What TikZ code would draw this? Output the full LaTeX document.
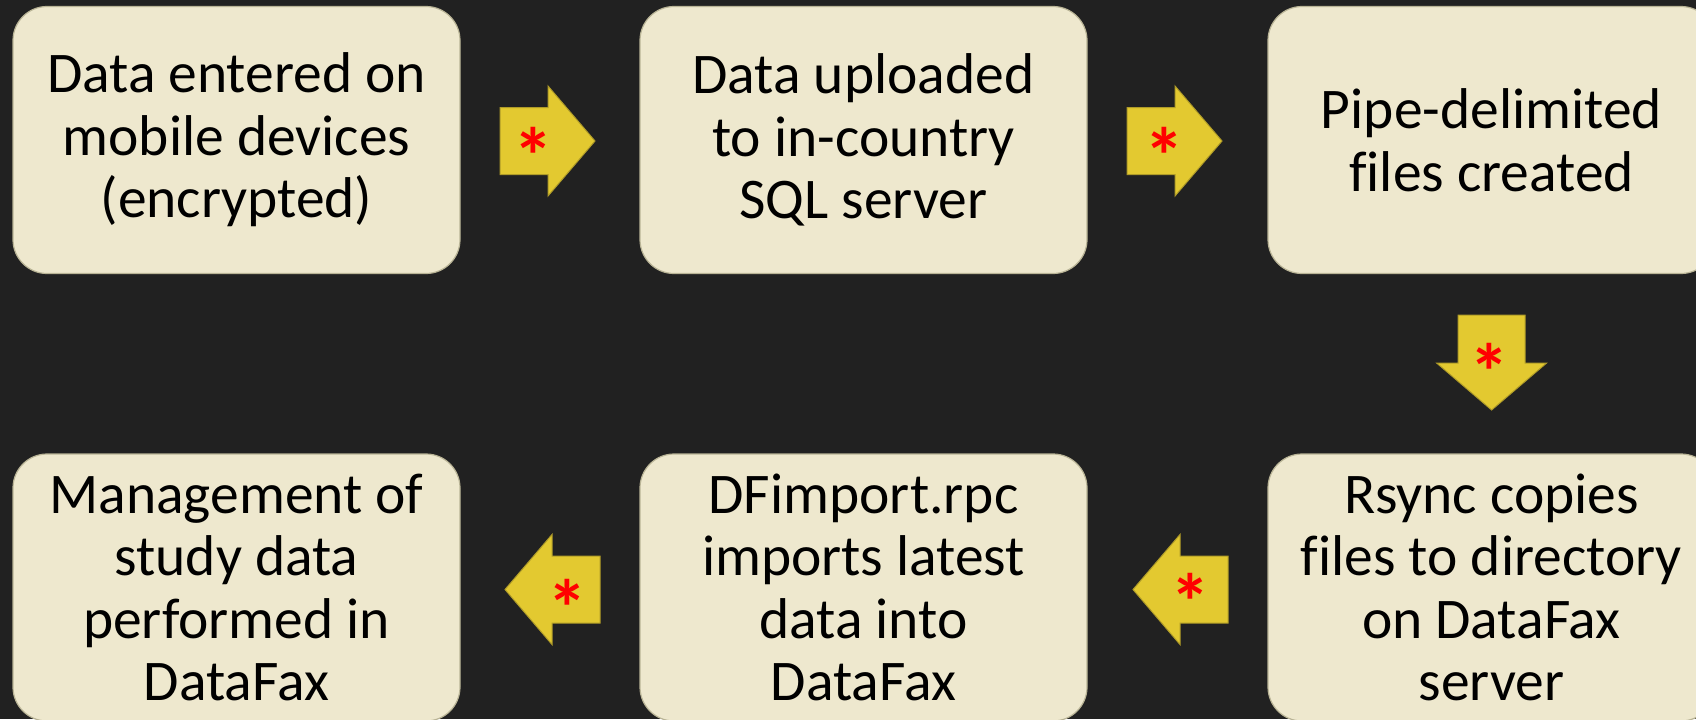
\documentclass[tikz,border=0pt]{standalone}
\usepackage{fontspec}
\setmainfont{Carlito}[Ligatures=NoCommon]
\definecolor{bg}{RGB}{33,33,33}
\definecolor{boxfill}{RGB}{238,232,206}
\definecolor{boxline}{RGB}{185,180,150}
\definecolor{arrowfill}{RGB}{227,201,48}
\definecolor{arrowline}{RGB}{175,155,40}
\definecolor{starred}{RGB}{255,0,0}
\begin{document}
\begin{tikzpicture}[x=0.5pt,y=-0.5pt,
  stepbox/.style={draw=boxline, line width=0.6pt, fill=boxfill, rounded corners=17pt,
    minimum width=223.5pt, minimum height=133.5pt, align=center, inner sep=0pt,
    font=\fontsize{28.75}{31.25}\selectfont, text=black},
  starmark/.style={font=\fontsize{40}{40}\selectfont\bfseries, text=starred, inner sep=0pt, anchor=base},
  blockarrow/.pic={\draw[draw=arrowline, fill=arrowfill, line width=0.5pt]
      (0,-33.5) -- (48,-33.5) -- (48,-55) -- (95,0) -- (48,55) -- (48,33.5) -- (0,33.5) -- cycle;}
]
\useasboundingbox (0,0) rectangle (1696,719);
\fill[bg] (0,0) rectangle (1696,719);
\clip (0,0) rectangle (1696,719);

% boxes
\node[stepbox] (b1) at (236.5,140) {Data entered on\\mobile devices\\(encrypted)};
\node[stepbox] (b2) at (863.5,140) {Data uploaded\\to in-country\\SQL server};
\node[stepbox] (b3) at (1491.5,140) {Pipe-delimited\\files created};
\node[stepbox] (b4) at (1491.5,587.5) {Rsync copies\\files to directory\\on DataFax\\server};
\node[stepbox] (b5) at (863.5,587.5) {DFimport.rpc\\imports latest\\data into\\DataFax};
\node[stepbox] (b6) at (236.5,587.5) {Management of\\study data\\performed in\\DataFax};

% block arrows
\pic at (500,141) {blockarrow};
\pic at (1127,141) {blockarrow};
\pic[rotate=-90] at (1491.6,315) {blockarrow};
\pic[rotate=180] at (1228,589.5) {blockarrow};
\pic[rotate=180] at (600,589.5) {blockarrow};

% asterisks
\node[starmark] (s1) at (533,184) {*};
\node[starmark] (s2) at (1164,184) {*};
\node[starmark] (s3) at (1489,400) {*};
\node[starmark] (s4) at (1190,630) {*};
\node[starmark] (s5) at (567,636) {*};
\end{tikzpicture}
\end{document}
